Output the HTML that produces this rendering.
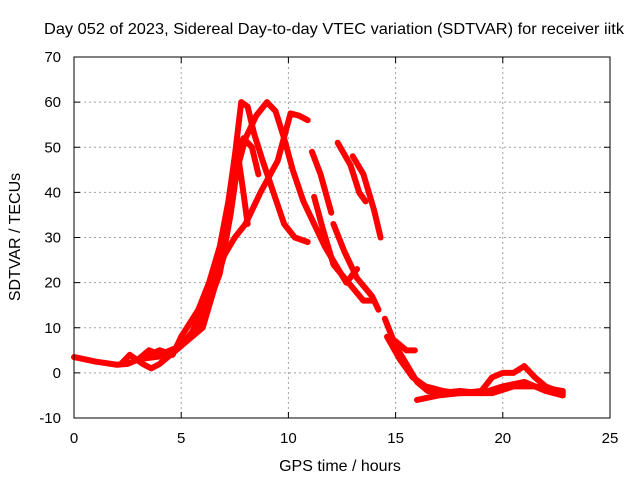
<!DOCTYPE html>
<html><head><meta charset="utf-8"><style>
body{margin:0;background:#fff}
svg{display:block;font-family:"Liberation Sans",sans-serif}
</style></head><body>
<svg id="chart" width="640" height="480" viewBox="0 0 640 480">
<rect width="640" height="480" fill="#fff"/>
<g id="grid"></g>
<g id="series"></g>
<rect x="74" y="57" width="536" height="361" fill="none" stroke="#000" stroke-width="1"/>
<g id="ticks"></g>
<text x="334" y="34" font-size="16" text-anchor="middle" textLength="580" lengthAdjust="spacingAndGlyphs">Day 052 of 2023, Sidereal Day-to-day VTEC variation (SDTVAR) for receiver iitk</text>
<text x="340" y="471" font-size="16" text-anchor="middle">GPS time / hours</text>
<text transform="translate(20,237) rotate(-90)" font-size="16" text-anchor="middle">SDTVAR / TECUs</text>
</svg>
<script>
const xTicks=[0,5,10,15,20,25];
const yTicks=[-10,0,10,20,30,40,50,60,70];
const trackA=[[0,3.5],[1,2.5],[2,1.8],[2.5,2],[3,3],[3.8,3.5],[4.5,4],[5,6],[5.5,9],[6,14],[6.5,20],[7,30],[7.3,40],[7.6,52],[7.8,60],[8.1,59],[8.4,53],[8.8,47],[9.3,40],[9.8,33],[10.3,30],[10.9,29]];
const trackB=[[2.2,2],[2.6,4],[3.2,2],[3.6,1],[4,2],[5,6],[6,12],[6.8,22],[7.3,35],[7.6,45],[8,52],[8.5,57],[9,60],[9.4,58],[9.8,52],[10.2,45],[10.7,38],[11.2,33],[11.7,28],[12.2,24],[12.7,20],[13.2,23]];
const trackC=[[3,3],[3.5,5],[4,4],[5,6],[6,10],[6.5,18],[7,26],[7.5,30],[8,33],[8.7,40],[9.5,47],[10.1,57.5],[10.5,57],[10.9,56]];
const trackD=[[3.5,4],[4,5],[4.6,4],[5,8],[5.8,14],[6.3,20],[6.8,28],[7.2,38],[7.5,48],[7.9,52],[8.3,50],[8.6,44]];
const trackE=[[11.1,49],[11.5,44],[12,35.5]];
const trackF=[[12.3,51],[12.9,46],[13.3,40],[13.6,38]];
const trackG=[[13,48],[13.5,44],[14,36],[14.3,30]];
const trackH=[[11.2,39],[11.6,32],[12.1,24],[12.8,20],[13.5,16],[13.9,16]];
const trackI=[[12.1,33],[12.6,27],[13.2,21],[13.9,17],[14.2,14]];
const trackJ=[[14.5,12],[15,6],[15.5,2],[16,-2],[16.5,-4],[17,-4.5],[18,-4],[19,-4.5],[20,-3],[21,-2],[22,-4],[22.8,-5]];
const trackK=[[14.6,8],[15.2,3],[15.8,-1],[16.4,-3],[17.2,-4],[18,-4.5],[19.5,-4.5],[20.5,-3],[21.5,-3],[22.8,-4]];
const trackL=[[16,-6],[17,-5],[18,-4.5],[19,-4],[19.5,-1],[20,0],[20.5,0],[21,1.5],[21.5,-1],[22,-3],[22.8,-4.5]];
const trackM=[[15,7],[15.5,5],[15.9,5]];
const trackN=[[7.6,50],[7.9,40],[8.1,33]];
const tracks=[trackA,trackB,trackC,trackD,trackE,trackF,trackG,trackH,trackI,trackJ,trackK,trackL,trackM,trackN];
const X0=74,X1=610,Y0=418,Y1=57;
function xs(v){return X0+(v-0)/25*(X1-X0);}
function ys(v){return Y0-(v+10)/80*(Y0-Y1);}
const NS="http://www.w3.org/2000/svg";
const grid=document.getElementById('grid'),ticks=document.getElementById('ticks'),ser=document.getElementById('series');
function mk(t,a,p){const e=document.createElementNS(NS,t);for(const k in a)e.setAttribute(k,a[k]);p.appendChild(e);return e;}
xTicks.forEach(v=>{const x=xs(v);
 if(v>0&&v<25){const g=mk('line',{x1:x,x2:x,y1:Y1,y2:Y0,stroke:'#a0a0a0','stroke-dasharray':'2,3'},grid);
 
 }
 mk('line',{x1:x,x2:x,y1:Y0,y2:Y0-6,stroke:'#000'},ticks);mk('line',{x1:x,x2:x,y1:Y1,y2:Y1+6,stroke:'#000'},ticks);
 const t=mk('text',{x:x,y:443,'font-size':15,'text-anchor':'middle'},ticks);t.textContent=v;
 
 });
yTicks.forEach(v=>{const y=ys(v);
 if(v>-10&&v<70){const g=mk('line',{x1:X0,x2:X1,y1:y,y2:y,stroke:'#a0a0a0','stroke-dasharray':'2,3'},grid);
 
 }
 mk('line',{x1:X0,x2:X0+6,y1:y,y2:y,stroke:'#000'},ticks);mk('line',{x1:X1,x2:X1-6,y1:y,y2:y,stroke:'#000'},ticks);
 const t=mk('text',{x:61,y:y+5,'font-size':15,'text-anchor':'end'},ticks);t.textContent=v;
 
 });
tracks.forEach((tr,i)=>{const p=mk('polyline',{points:tr.map(d=>xs(d[0])+','+ys(d[1])).join(' '),fill:'none',stroke:'#ff0000','stroke-width':6,'stroke-linejoin':'round','stroke-linecap':'round'},ser);
 
 });
</script>
</body></html>
